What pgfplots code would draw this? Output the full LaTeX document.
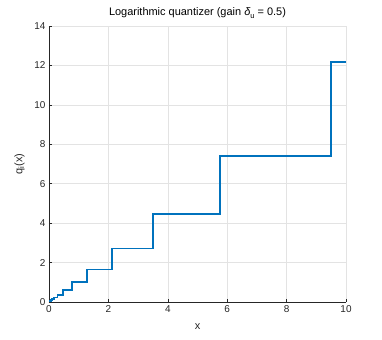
\documentclass[border=0pt]{standalone}
\usepackage{fontspec}
\setmainfont{Liberation Sans}
\usepackage{pgfplots}
\usetikzlibrary{calc}
\pgfplotsset{compat=1.18}
\definecolor{mblue}{rgb}{0,0.447,0.741}
\definecolor{maxis}{rgb}{0.15,0.15,0.15}
\definecolor{mgrid}{rgb}{0.89,0.89,0.89}
\begin{document}
\begin{tikzpicture}[x=1bp,y=1bp]
\begin{axis}[
  name=ax,
  scale only axis,
  width=297bp, height=276bp,
  xmin=0, xmax=10, ymin=0, ymax=14,
  xtick={0,2,...,10}, ytick={0,2,...,14},
  axis x line*=bottom, axis y line*=left,
  grid=major,
  major grid style={mgrid, line width=0.6pt},
  axis line style={maxis, line width=0.6pt, -},
  tick style={maxis, line width=0.6pt},
  tick align=inside,
  major tick length=3bp,
  xticklabel style={font=\fontsize{10}{12}\selectfont, text=maxis},
  yticklabel style={font=\fontsize{10}{12}\selectfont, text=maxis},
  /pgf/number format/assume math mode=true,
  xlabel={x}, ylabel={q\textsubscript{i}(x)},
  xlabel style={font=\fontsize{11}{13}\selectfont, text=maxis, yshift=-4bp},
  ylabel style={font=\fontsize{11}{13}\selectfont, text=maxis, yshift=3bp},
  title={Logarithmic quantizer (gain \textit{δ}\raisebox{-0.45ex}{\fontsize{7.5}{9}\selectfont u} = 0.5)},
  title style={font=\fontsize{11}{13}\selectfont, text=black, yshift=-2bp},
]
\addplot[const plot, mblue, line width=1.8pt] coordinates {
(0,0)
(0.0235,0.0302)
(0.0388,0.0498)
(0.0639,0.0821)
(0.1054,0.1353)
(0.1738,0.2231)
(0.2865,0.3679)
(0.4724,0.6065)
(0.7788,1.0000)
(1.2840,1.6487)
(2.1170,2.7183)
(3.4903,4.4817)
(5.7546,7.3891)
(9.4877,12.1825)
(10,12.1825)
};
\end{axis}
\pgfresetboundingbox
\path ($(ax.south west)+(-49bp,-38bp)$) rectangle ($(ax.north east)+(36bp,26bp)$);
\end{tikzpicture}
\end{document}
